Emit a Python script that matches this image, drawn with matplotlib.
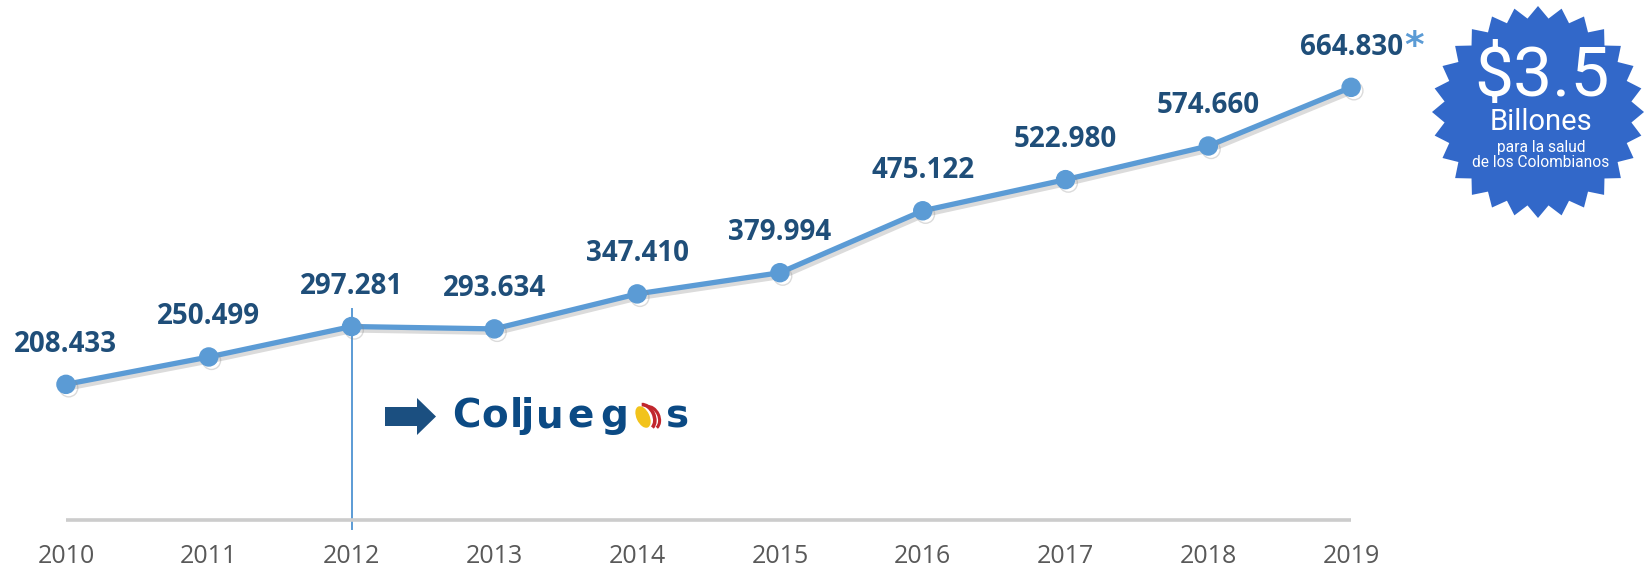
import numpy as np
import matplotlib
matplotlib.use("Agg")
import matplotlib.pyplot as plt
import matplotlib.patheffects as pe
from matplotlib.patches import Polygon, Ellipse, Arc

years = [2010, 2011, 2012, 2013, 2014, 2015, 2016, 2017, 2018, 2019]
values = [208433, 250499, 297281, 293634, 347410, 379994, 475122, 522980, 574660, 664830]
labels = ["208.433", "250.499", "297.281", "293.634", "347.410",
          "379.994", "475.122", "522.980", "574.660", "664.830"]
marker_year = 2012
badge_big = "$3.5"
badge_mid = "Billones"
badge_small = "para la salud\nde los Colombianos"
logo_chars = ["C", "o", "l", "j", "u", "e", "g", "s"]
logo_centers = [466, 495, 516, 527, 550, 581, 614, 678]

line_blue = "#5b9bd5"
dark_blue = "#1f4e79"
badge_blue = "#3268c9"

W, H = 1645, 572
fig = plt.figure(figsize=(W / 100, H / 100), dpi=100)
ax = fig.add_axes([0, 52 / H, 1, 1 - 52 / H])
ax.set_xlim(2009.538, 2021.058)
ax.set_ylim(0, 799000)
for s in ax.spines.values():
    s.set_visible(False)
ax.set_yticks([])
ax.set_xticks(years)
ax.set_xticklabels([str(y) for y in years], fontsize=18, color="#595959",
                   family="Open Sans")
ax.tick_params(axis="x", length=0, pad=17)

# base line + 2012 marker line
ax.plot([years[0], years[-1]], [0, 0], color="#cccccc", lw=2.6,
        clip_on=False, solid_capstyle="butt")
ax.plot([marker_year, marker_year], [-14000, 324000], color=line_blue, lw=1.4,
        clip_on=False, zorder=1)

ax.plot(years, values, color=line_blue, lw=3.8, marker="o", markersize=13,
        zorder=3,
        path_effects=[pe.SimpleLineShadow(offset=(2, -2.5), shadow_color="#888888",
                                          alpha=0.3),
                      pe.Normal()])

last = None
for x, v, t in zip(years, values, labels):
    last = ax.annotate(t, (x, v), xytext=(0, 29), textcoords="offset points",
                       ha="center", va="center", fontsize=20, fontweight="bold",
                       color=dark_blue, family="Open Sans")
ax.annotate("*", xy=(1, 0.5), xycoords=last, xytext=(1, 0),
            textcoords="offset points", ha="left", va="center",
            fontsize=27, fontweight="bold", color=line_blue, family="DejaVu Sans")

# overlay in pixel coordinates
ov = fig.add_axes([0, 0, 1, 1])
ov.set_xlim(0, W)
ov.set_ylim(H, 0)
ov.axis("off")
ov.patch.set_alpha(0)

# starburst badge
cx, cy, r_out, r_in, n = 1538, 112, 106, 94, 28
ang = np.linspace(0, 2 * np.pi, 2 * n, endpoint=False) - np.pi / 2
rad = np.where(np.arange(2 * n) % 2 == 0, r_out, r_in)
ov.add_patch(Polygon(np.c_[cx + rad * np.cos(ang), cy + rad * np.sin(ang)],
                     closed=True, facecolor=badge_blue, edgecolor="none"))
ov.text(cx + 4, 77, badge_big, ha="center", va="center", color="white",
        fontsize=50, family="Roboto")
ov.text(cx + 3, 122, badge_mid, ha="center", va="center", color="white",
        fontsize=21, family="Roboto")
ov.text(cx + 3, 155, badge_small, ha="center", va="center", color="white",
        fontsize=11.2, family="Roboto", linespacing=0.92)

# Coljuegos arrow + logo
arrow = [(385, 407), (417, 407), (417, 398), (436, 416.5), (417, 435),
         (417, 426), (385, 426)]
ov.add_patch(Polygon(arrow, closed=True, facecolor="#1b4f80", edgecolor="none"))
for ch, xc in zip(logo_chars, logo_centers):
    ov.text(xc, 427, ch, ha="center", va="baseline", fontsize=28,
            fontweight="bold", color="#0b4a84", family="DejaVu Sans")
ov.add_patch(Ellipse((643, 417), 13, 23, angle=-25, facecolor="#f2c31b",
                     edgecolor="none"))
ov.add_patch(Arc((645, 417), 18, 26, angle=-25, theta1=-80, theta2=80,
                 color="#c1272d", lw=2.6))
ov.add_patch(Arc((650, 418), 18, 24, angle=-25, theta1=-80, theta2=80,
                 color="#c1272d", lw=2.2))

fig.savefig("out.png", dpi=100)
